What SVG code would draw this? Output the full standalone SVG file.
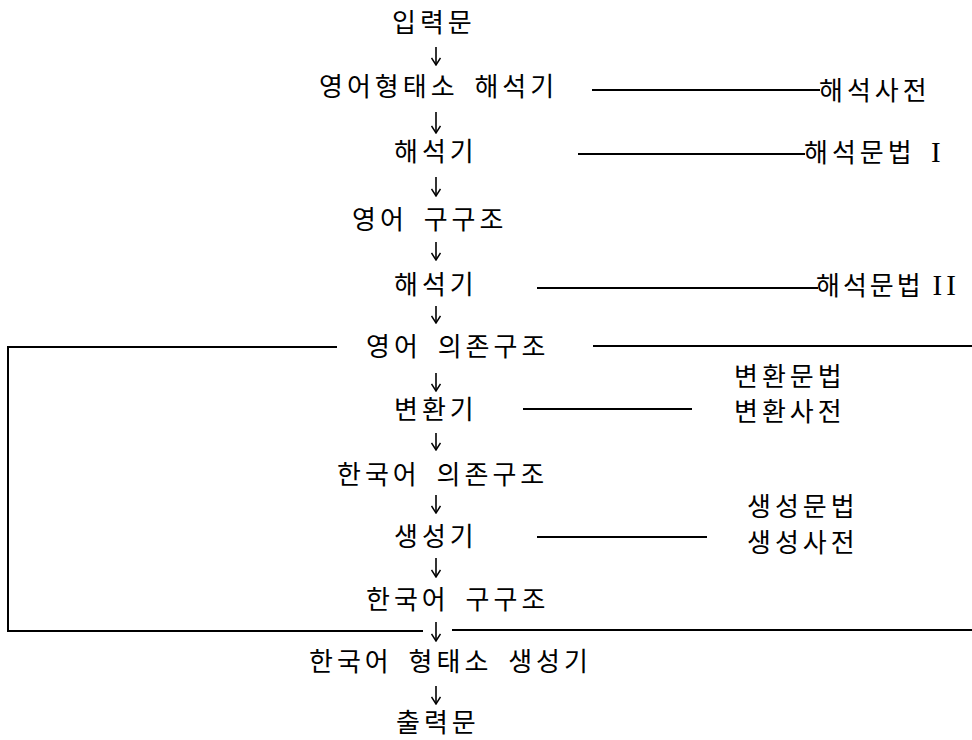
<svg xmlns="http://www.w3.org/2000/svg" width="972" height="740" viewBox="0 0 972 740">
<defs>
<style>
text{font-family:"Noto Sans CJK KR","Noto Sans CJK SC",sans-serif;font-size:26px;letter-spacing:4px;word-spacing:6px;fill:#000}
.rn{font-family:"Liberation Serif",serif;font-size:29px;letter-spacing:0}
.tight{letter-spacing:3px;word-spacing:0}
.ln{stroke:#000;stroke-width:2;fill:none}
.ar{stroke:#000;stroke-width:1.6;fill:none;marker-end:url(#ah)}
</style>
<marker id="ah" viewBox="0 0 10 10" refX="9.5" refY="5" markerWidth="10" markerHeight="10" markerUnits="userSpaceOnUse" orient="auto">
<path d="M2.5,0.5 L9.5,5 L2.5,9.5" fill="none" stroke="#000" stroke-width="1.5"/>
</marker>
</defs>
<rect width="972" height="740" fill="#fff"/>
<g id="connectors">
<path class="ar" d="M436,47 V65"/>
<path class="ar" d="M436,112 V133"/>
<path class="ar" d="M436,177 V196"/>
<path class="ar" d="M436,242 V260"/>
<path class="ar" d="M436,306 V323"/>
<path class="ar" d="M436,373 V391"/>
<path class="ar" d="M436,433 V450"/>
<path class="ar" d="M436,495 V513"/>
<path class="ar" d="M436,558 V577"/>
<path class="ar" d="M436,622 V641"/>
<path class="ar" d="M436,686 V704"/>
<path class="ln" d="M592,90 H820"/>
<path class="ln" d="M578,154 H805"/>
<path class="ln" d="M537,288 H818"/>
<path class="ln" d="M337,347 H8 V631 H423"/>
<path class="ln" d="M593,346 H972"/>
<path class="ln" d="M523,409 H692"/>
<path class="ln" d="M537,537 H707"/>
<path class="ln" d="M452,630 H972"/>
</g>
<g id="n-input"><text x="392" y="32">입력문</text></g>
<g id="n-eng-morph"><text x="319" y="96">영어형태소 해석기</text></g>
<g id="n-dict1"><text x="819" y="100">해석사전</text></g>
<g id="n-parser1"><text x="394" y="161">해석기</text></g>
<g id="n-gram1"><text x="804" y="162">해석문법 <tspan class="rn" x="931">I</tspan></text></g>
<g id="n-eng-phrase"><text x="352" y="229">영어 구구조</text></g>
<g id="n-parser2"><text x="394" y="294">해석기</text></g>
<g id="n-gram2"><text class="tight" x="816" y="295">해석문법 <tspan class="rn" style="letter-spacing:4px">II</tspan></text></g>
<g id="n-eng-dep"><text x="366" y="356">영어 의존구조</text></g>
<g id="n-trans-gram"><text x="734" y="386">변환문법</text></g>
<g id="n-transfer"><text x="394" y="419">변환기</text></g>
<g id="n-trans-dict"><text x="734" y="421">변환사전</text></g>
<g id="n-kor-dep"><text x="337" y="484">한국어 의존구조</text></g>
<g id="n-gen-gram"><text x="747" y="516">생성문법</text></g>
<g id="n-generator"><text x="394" y="546">생성기</text></g>
<g id="n-gen-dict"><text x="747" y="552">생성사전</text></g>
<g id="n-kor-phrase"><text x="366" y="609">한국어 구구조</text></g>
<g id="n-kor-morph"><text x="309" y="671">한국어 형태소 생성기</text></g>
<g id="n-output"><text x="396" y="732">출력문</text></g>
</svg>
